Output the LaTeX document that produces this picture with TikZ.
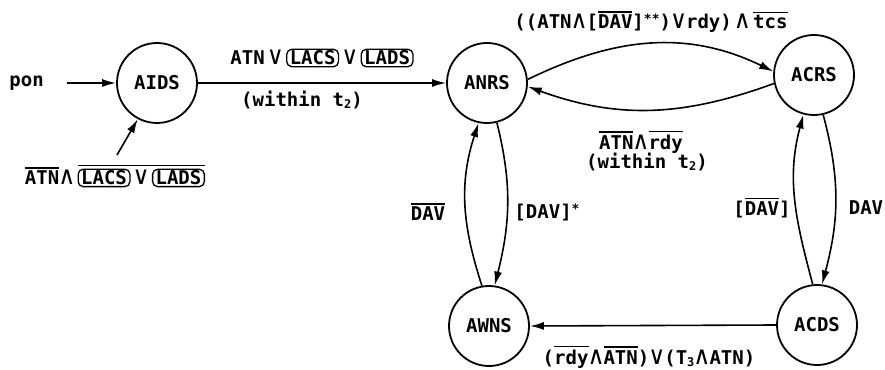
\documentclass[tikz,border=0pt]{standalone}
\usepackage{fontspec}
\setmainfont{DejaVu Sans Mono}
\usetikzlibrary{arrows.meta}
\newcommand\ol[1]{{\setbox0=\hbox{#1}\rlap{\raisebox{\dimexpr\ht0+2.5pt\relax}{\rule{\wd0}{1.4pt}}}\box0}}
\newcommand\rbx[1]{\tikz[baseline=(rb.base)]\node[draw,line width=1.3pt,rounded corners=5pt,inner xsep=3pt,inner ysep=1.5pt](rb){#1};}
\newcommand\subt[1]{\raisebox{-2.5pt}{\fontsize{12}{12}\selectfont #1}}
\newcommand\AND{{\fontsize{25}{25}\selectfont\mdseries ∧}}
\newcommand\OR{{\fontsize{25}{25}\selectfont\mdseries ∨}}
\newcommand\st[1]{\raisebox{5pt}{\fontsize{13}{13}\selectfont #1}}
\tikzset{
  state/.style={circle,draw,line width=1.8pt,minimum size=80pt,inner sep=0pt,font=\fontsize{19}{21}\selectfont\bfseries},
  lab/.style={inner sep=0pt,font=\fontsize{19}{21}\selectfont\bfseries},
  edge/.style={line width=1.6pt,-{Latex[length=14pt,width=8pt]}}
}
\begin{document}
\begin{tikzpicture}[x=1pt,y=1pt]
\useasboundingbox (0,0) rectangle (885,369);
% states
\node[state] (AIDS) at (157,286) {AIDS};
\node[state] (ANRS) at (487,286) {ANRS};
\node[state] (ACRS) at (814,294) {ACRS};
\node[state] (ACDS) at (817,44) {ACDS};
\node[state] (AWNS) at (489,43) {AWNS};
% free ends
\node[lab,anchor=east] (pon) at (44,286) {pon};
\coordinate (ponstart) at (67,286);
\coordinate (lowstart) at (117,214);
% edges
\draw[edge] (ponstart) -- (AIDS.west);
\draw[edge] (lowstart) -- (AIDS.-118);
\draw[edge] (AIDS.east) -- (ANRS.west);
\draw[edge] (ANRS.5) to[out=26,in=154] (ACRS.175);
\draw[edge] (ACRS.192) to[out=200,in=-20] (ANRS.-5);
\draw[edge] (AWNS.100) to[out=108,in=-108] (ANRS.-102);
\draw[edge] (ANRS.-76) to[out=-76,in=76] (AWNS.82);
\draw[edge] (ACDS.96) to[out=105,in=-105] (ACRS.-105);
\draw[edge] (ACRS.-77) to[out=-75,in=75] (ACDS.83);
\draw[edge] (ACDS.west) -- (AWNS.east);
% labels
\node[lab] (l1) at (322,311) {ATN\,\OR\,\rbx{LACS}\,\OR\,\rbx{LADS}};
\node[lab] (l2) at (302,269) {(within t\subt{2})};
\node[lab] (l3) at (651,347) {((ATN\AND[\ol{DAV}]\st{**})\OR rdy)\,\AND\,\ol{tcs}};
\node[lab] (l4) at (641,227) {\ol{ATN}\AND\ol{rdy}};
\node[lab] (l5) at (647,207) {(within t\subt{2})};
\node[lab] (l6) at (428,157) {\ol{DAV}};
\node[lab] (l7) at (547,157) {[DAV]\st{*}};
\node[lab] (l8) at (762,161) {[\ol{DAV}]};
\node[lab] (l9) at (866,161) {DAV};
\node[lab] (l10) at (649,12) {(\ol{rdy}\AND\ol{ATN})\OR(T\subt{3}\AND ATN)};
\node[lab] (l11) at (115,193) {\ol{ATN}\AND\,\ol{\rbx{LACS}\,\OR\,\rbx{LADS}}};
\end{tikzpicture}
\end{document}
